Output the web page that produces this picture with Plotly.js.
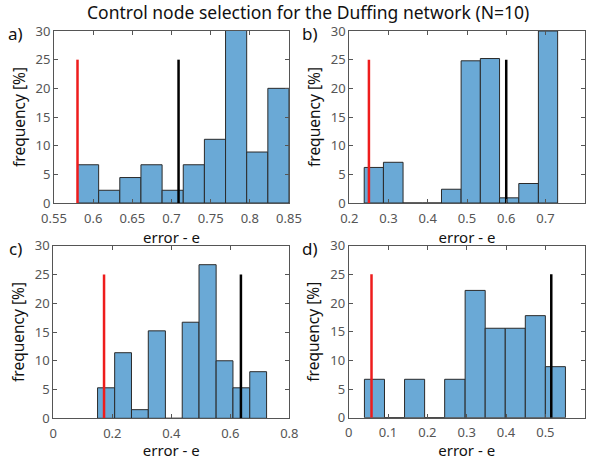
<!DOCTYPE html>
<html>
<head>
<meta charset="utf-8">
<script src="https://cdn.plot.ly/plotly-3.0.1.min.js"></script>
<style>html,body{margin:0;padding:0;background:#fff;}#chart{width:592px;height:460px;}</style>
</head>
<body>
<div id="chart"></div>
<script>
// Panel a)
const edgesA = [0.580, 0.607, 0.634, 0.661, 0.688, 0.715, 0.742, 0.769, 0.796, 0.823, 0.850];
const freqA = [6.67, 2.22, 4.44, 6.67, 2.22, 6.67, 11.11, 31.11, 8.89, 20.0];
const redA = 0.580, blackA = 0.709;
// Panel b)
const edgesB = [0.238, 0.287, 0.337, 0.386, 0.435, 0.485, 0.534, 0.583, 0.632, 0.682, 0.731];
const freqB = [6.2, 7.1, 0, 0, 2.4, 24.8, 25.2, 0.9, 3.4, 30.0];
const redB = 0.250, blackB = 0.600;
// Panel c)
const edgesC = [0.150, 0.208, 0.265, 0.322, 0.380, 0.437, 0.494, 0.552, 0.609, 0.666, 0.723];
const freqC = [5.3, 11.4, 1.5, 15.2, 0, 16.7, 26.7, 10.0, 5.3, 8.1];
const redC = 0.172, blackC = 0.636;
// Panel d)
const edgesD = [0.040, 0.091, 0.142, 0.193, 0.244, 0.296, 0.347, 0.398, 0.449, 0.500, 0.551];
const freqD = [6.7, 0, 6.7, 0, 6.7, 22.2, 15.6, 15.6, 17.8, 8.9];
const redD = 0.058, blackD = 0.515;

const lineTop = 25;
const panelLabels = ['a)', 'b)', 'c)', 'd)'];
const xRanges = [[0.55, 0.85], [0.2, 0.8], [0, 0.8], [0, 0.6]];
const xDticks = [0.05, 0.1, 0.2, 0.1];
const titleText = 'Control node selection for the Duffing network (N=10)';

const panels = [
  {edges: edgesA, freq: freqA, red: redA, black: blackA},
  {edges: edgesB, freq: freqB, red: redB, black: blackB},
  {edges: edgesC, freq: freqC, red: redC, black: blackC},
  {edges: edgesD, freq: freqD, red: redD, black: blackD}
];

const domX = [[54/592, 289/592], [349.3/592, 584.7/592], [53.3/592, 289.3/592], [348.7/592, 584.7/592]];
const domY = [[1-203/460, 1-31/460], [1-203/460, 1-31/460], [1-418.3/460, 1-245.7/460], [1-417.7/460, 1-245.7/460]];

const FONT = 'Noto Sans, DejaVu Sans, sans-serif';
const traces = [];
const layout = {
  width: 592, height: 460,
  margin: {l: 0, r: 0, t: 0, b: 0},
  paper_bgcolor: '#fff', plot_bgcolor: '#fff',
  showlegend: false,
  bargap: 0,
  font: {family: FONT, color: '#4d4d4d', size: 13},
  annotations: [{
    text: titleText, xref: 'paper', yref: 'paper', x: 308/592, y: 1 - 12/460,
    xanchor: 'center', yanchor: 'middle', showarrow: false,
    font: {family: FONT, size: 17.5, color: '#111'}
  }]
};

panels.forEach((p, i) => {
  const n = i === 0 ? '' : String(i + 1);
  const xa = 'x' + n, ya = 'y' + n;
  const lefts = p.edges.slice(0, -1);
  const widths = lefts.map((e, k) => p.edges[k + 1] - e);
  traces.push({
    type: 'bar', x: lefts, y: p.freq, width: widths, offset: 0,
    xaxis: xa, yaxis: ya,
    marker: {color: '#6aa9d6', line: {color: '#2a2a2a', width: 1}},
    hoverinfo: 'skip'
  });
  traces.push({
    type: 'scatter', mode: 'lines', x: [p.red, p.red], y: [0, lineTop],
    xaxis: xa, yaxis: ya, line: {color: '#ee1c1c', width: 2.5}, hoverinfo: 'skip'
  });
  traces.push({
    type: 'scatter', mode: 'lines', x: [p.black, p.black], y: [0, lineTop],
    xaxis: xa, yaxis: ya, line: {color: '#000', width: 2.5}, hoverinfo: 'skip'
  });
  layout['xaxis' + n] = {
    domain: domX[i], anchor: ya, range: xRanges[i], dtick: xDticks[i], tick0: 0,
    showgrid: false, zeroline: false, showline: true, mirror: 'ticks',
    linecolor: '#555', linewidth: 1, ticks: 'inside', ticklen: 4, tickcolor: '#555',
    ticklabelstandoff: 3,
    tickfont: {size: 13, color: '#555'},
    title: {text: 'error - e', font: {size: 15, color: '#111'}, standoff: 0}
  };
  layout['yaxis' + n] = {
    domain: domY[i], anchor: xa, range: [0, 30], dtick: 5,
    showgrid: false, zeroline: false, showline: true, mirror: 'ticks',
    linecolor: '#555', linewidth: 1, ticks: 'inside', ticklen: 4, tickcolor: '#555',
    tickfont: {size: 13, color: '#555'},
    title: {text: 'frequency [%]', font: {size: 15.5, color: '#111'}, standoff: 6}
  };
  layout.annotations.push({
    text: panelLabels[i], xref: 'paper', yref: 'paper',
    x: (domX[i][0] * 592 - 29) / 592, y: domY[i][1] - 3/460,
    xanchor: 'right', yanchor: 'middle', showarrow: false,
    font: {family: FONT, size: 17, color: '#111'}
  });
});

Plotly.newPlot('chart', traces, layout, {displayModeBar: false, staticPlot: true});
</script>
</body>
</html>
